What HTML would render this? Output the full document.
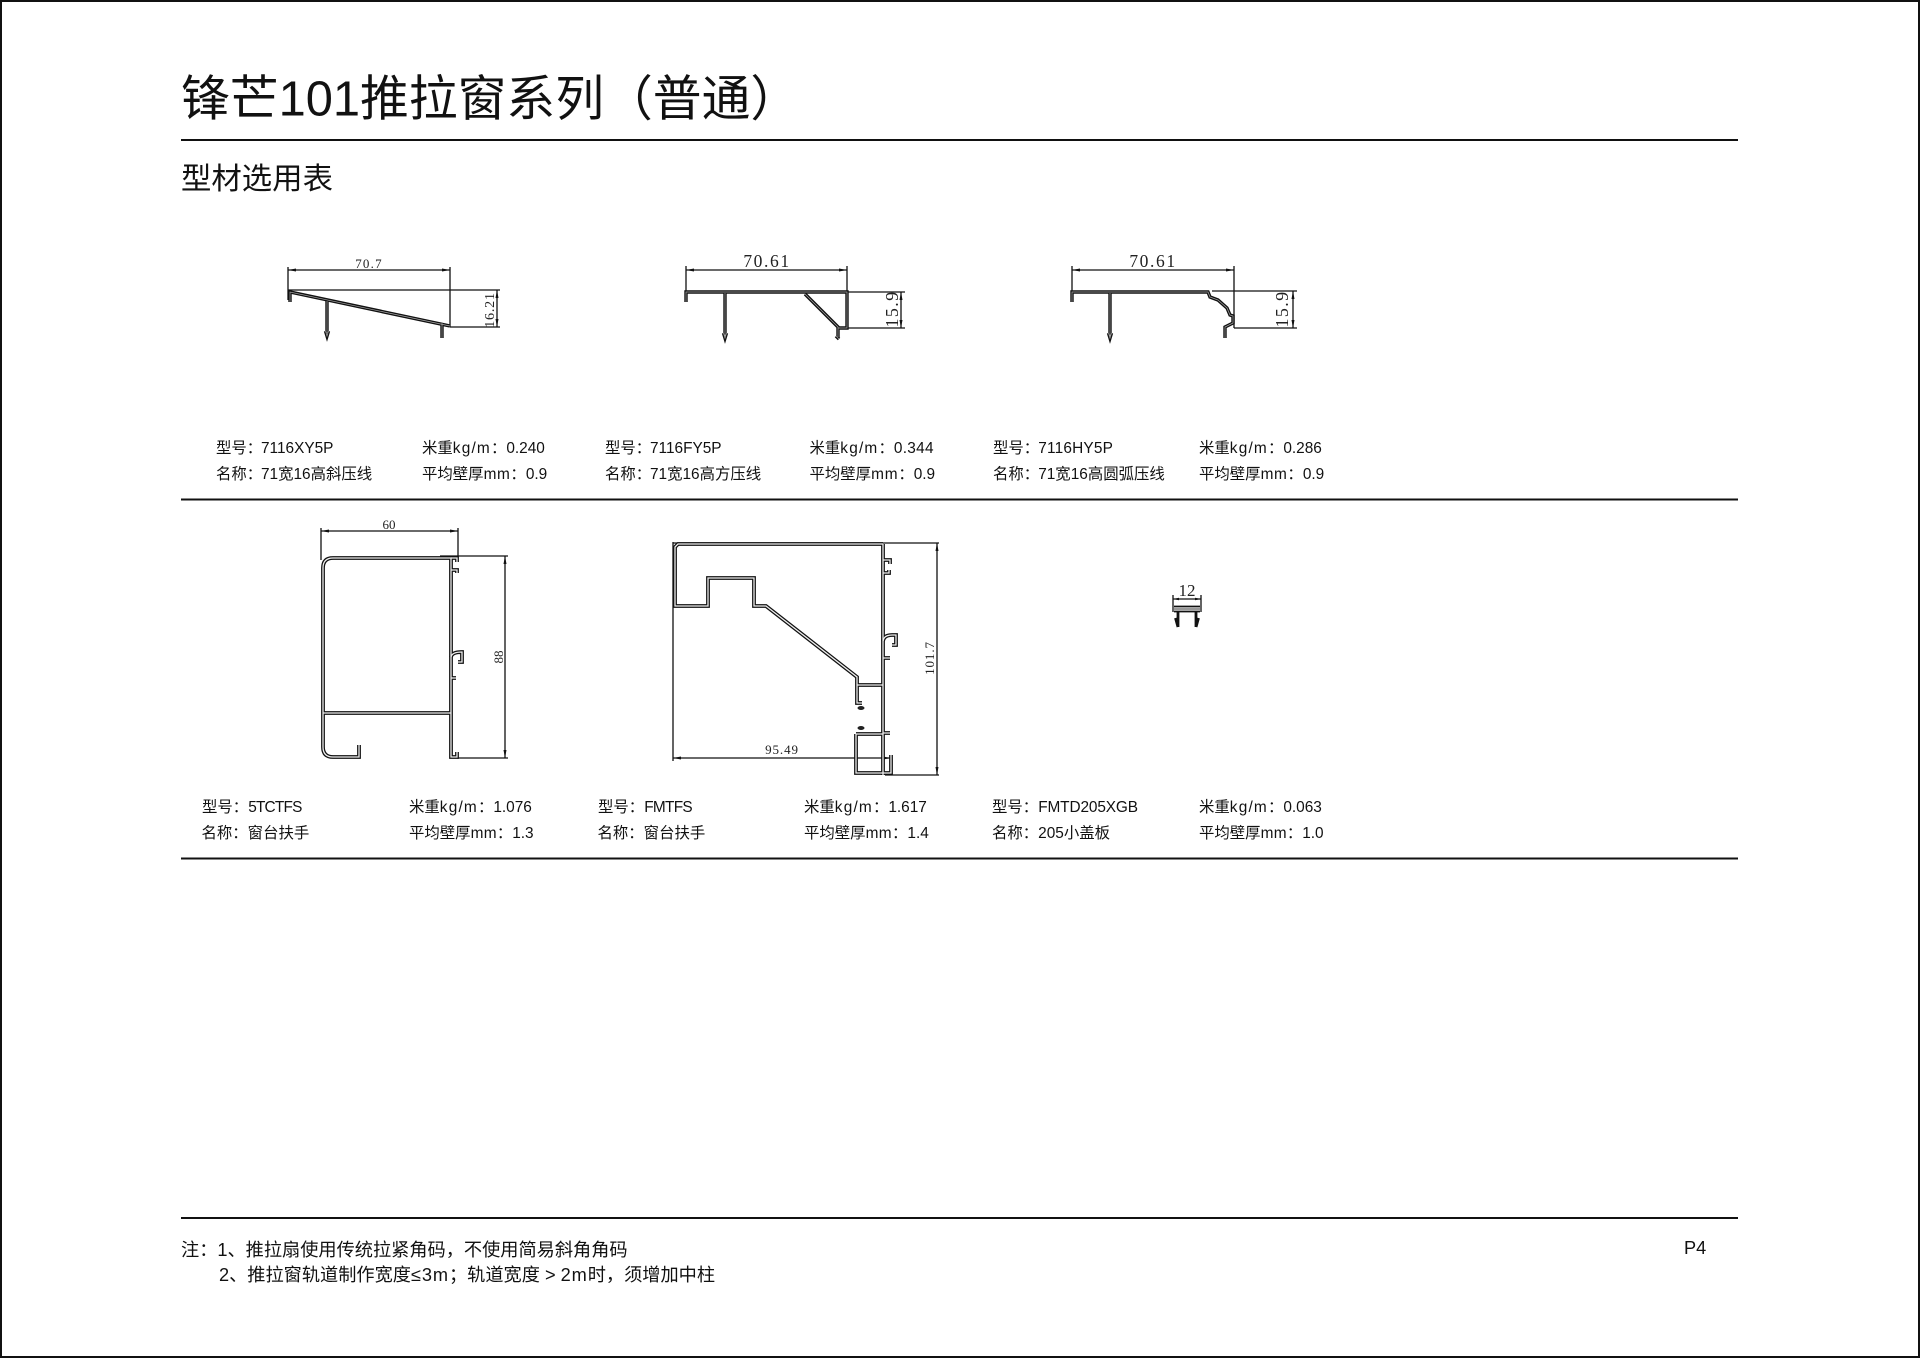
<!DOCTYPE html>
<html><head><meta charset="utf-8"><style>
html,body{margin:0;padding:0;background:#fff}
svg{display:block}
text{font-family:"Liberation Sans","Noto Sans CJK SC",sans-serif;fill:#111;white-space:pre}
.t{font-size:15.4px}
.n{font-size:18.2px}
.d{font-family:"Liberation Serif","Noto Serif CJK SC",serif;fill:#222;text-anchor:middle}
.r{stroke:#111;stroke-width:2;fill:none}
.l{stroke:#111;stroke-width:1.3;fill:none}
.a{fill:#111;stroke:none}
</style></head><body>
<svg width="1920" height="1358" viewBox="0 0 1920 1358" xmlns="http://www.w3.org/2000/svg">
<defs>
<g id="p1" fill="none"><path d="M290 302V292L450 326"/><path d="M327 301V333M325.5 331L327 336L328.5 331"/><path d="M442 323V338"/></g>
<g id="p2" fill="none"><path d="M686 302V292H847V328H838"/><path d="M725 293V336M723.5 333L725 338L726.5 333"/><path d="M805 294L838 327V337M836 336L839 339"/></g>
<g id="p3" fill="none"><path d="M1072 302V292H1208L1210 297L1218 300L1227 308L1230 315L1233 316V323L1225 327V338"/><path d="M1110 293V336M1108.500 333L1110 338L1111.500 333"/></g>
<g id="p4" fill="none"><path d="M359 745V757H333Q323 757 323 747V568Q323 558 333 558H451V757H457V752"/><path d="M323 713H451"/><path d="M451 558H457V562M451 570H457V573M451 657Q452 652 462 652V662H458M451 678H456"/></g>
<g id="p5" fill="none"><path d="M883 544H678L675 547V606H708V578H754V606H766L857 677V703H862"/><path d="M883 544V775"/><path d="M857 685H883"/><path d="M856 734H883M856 734V773H891V755"/><path d="M883 560H890V564M883 573H889V570M883 641Q884 635 892 635H896V645H892M883 658H890M883 733H890"/></g>
<g id="p6" fill="none"><path d="M1178 612V627M1196 612V627M1175.500 618L1178 627M1198.500 618L1196 627"/></g>
</defs>

<rect x="1" y="1" width="1918" height="1356" fill="#fff" stroke="#111" stroke-width="2"/>

<text x="181" y="115.5" style="font-size:48.8px">锋芒101推拉窗系列（普通）</text>
<path class="r" d="M181 140H1738M181 499.5H1738M181 858.5H1738M181 1218H1738"/>
<text x="181" y="189" style="font-size:30.4px">型材选用表</text>

<!-- drawing 1 -->
<path class="l" d="M288 267V300M288 270H450M450 267V327M288 290H500M450 327H500M497 290V327"/>
<path class="a" d="M288 270l8-1.5v3zM450 270l-8-1.500v3zM497 290l-1.500 8h3zM497 327l-1.500-8h3z"/>
<use href="#p1" stroke="#111" stroke-width="3.4"/>
<use href="#p1" stroke="#aaa" stroke-width=".7"/>
<text class="d" x="369" y="268" style="font-size:13px;letter-spacing:1.2px">70.7</text>
<text class="d" transform="translate(494,310) rotate(-90)" style="font-size:14px;letter-spacing:.8px">16.21</text>

<!-- drawing 2 -->
<path class="l" d="M686 266V292M686 270H847M847 266V328M686 292H905M847 328H905M901 292V328"/>
<path class="a" d="M686 270l8-1.500v3zM847 270l-8-1.500v3zM901 292l-1.500 8h3zM901 328l-1.500-8h3z"/>
<use href="#p2" stroke="#111" stroke-width="3.4"/>
<use href="#p2" stroke="#aaa" stroke-width=".7"/>
<text class="d" x="767" y="267" style="font-size:17.5px;letter-spacing:1.6px">70.61</text>
<text class="d" transform="translate(898,309) rotate(-90)" style="font-size:18px;letter-spacing:1.4px">15.9</text>

<!-- drawing 3 -->
<path class="l" d="M1072 266V292M1072 270H1234M1234 266V328M1212 291H1297M1234 328H1297M1293 291V328"/>
<path class="a" d="M1072 270l8-1.500v3zM1234 270l-8-1.500v3zM1293 291l-1.500 8h3zM1293 328l-1.500-8h3z"/>
<use href="#p3" stroke="#111" stroke-width="3.4"/>
<use href="#p3" stroke="#aaa" stroke-width=".7"/>
<text class="d" x="1153" y="267" style="font-size:17.5px;letter-spacing:1.6px">70.61</text>
<text class="d" transform="translate(1288,309) rotate(-90)" style="font-size:18px;letter-spacing:1.4px">15.9</text>

<!-- drawing 4 -->
<path class="l" d="M321 528V560M321 531H458M458 528V556M440 556H508M457 758H508M505 556V758"/>
<path class="a" d="M321 531l8-1.500v3zM458 531l-8-1.500v3zM505 556l-1.500 8h3zM505 758l-1.500-8h3z"/>
<use href="#p4" stroke="#111" stroke-width="3.8"/>
<use href="#p4" stroke="#eee" stroke-width="1.3"/>
<text class="d" x="389" y="529" style="font-size:13px">60</text>
<text class="d" transform="translate(503,657) rotate(-90)" style="font-size:13px">88</text>

<!-- drawing 5 -->
<path class="l" d="M673 542V761M673 758H891M891 755V775M673 543H939M885 775H939M937 543V775"/>
<path class="a" d="M673 758l8-1.500v3zM891 758l-8-1.500v3zM937 543l-1.500 8h3zM937 775l-1.500-8h3z"/>
<use href="#p5" stroke="#111" stroke-width="3.8"/>
<use href="#p5" stroke="#eee" stroke-width="1.3"/>
<ellipse cx="861" cy="708" rx="3.5" ry="2" fill="#222"/>
<ellipse cx="861" cy="728" rx="3.5" ry="2" fill="#222"/>
<text class="d" x="782" y="754" style="font-size:13px;letter-spacing:.9px">95.49</text>
<text class="d" transform="translate(934,658) rotate(-90)" style="font-size:13px;letter-spacing:.9px">101.7</text>

<!-- drawing 6 -->
<path class="l" d="M1173 595V612M1201 595V612M1173 599H1201"/>
<path class="a" d="M1173 599l6-1.300v2.600zM1201 599l-6-1.300v2.600z"/>
<path d="M1174 606.500H1200M1174 611.500H1200" stroke="#111" stroke-width="1.800" fill="none"/>
<path d="M1174 609H1200" stroke="#777" stroke-width="1.500" fill="none"/>
<use href="#p6" stroke="#111" stroke-width="2.800"/>
<text class="d" x="1187" y="596" style="font-size:17px">12</text>

<!-- row 1 -->
<text class="t" x="216" y="453">型号：<tspan dx="-1.2">7116XY5P</tspan></text><text class="t" x="422" y="453">米重<tspan letter-spacing="1.2">kg/m</tspan>：0.240</text>
<text class="t" x="216" y="479">名称：<tspan dx="-1.2">71宽16高斜压线</tspan></text><text class="t" x="422" y="479">平均壁厚<tspan letter-spacing=".6">mm</tspan>：0.9</text>
<text class="t" x="605" y="453">型号：<tspan dx="-1.2">7116FY5P</tspan></text><text class="t" x="809.5" y="453">米重<tspan letter-spacing="1.2">kg/m</tspan>：<tspan letter-spacing=".3">0.344</tspan></text>
<text class="t" x="605" y="479">名称：<tspan dx="-1.2">71宽16高方压线</tspan></text><text class="t" x="809.5" y="479">平均壁厚<tspan letter-spacing=".8">mm</tspan>：0.9</text>
<text class="t" x="993" y="453">型号：<tspan dx="-1" letter-spacing=".2">7116HY5P</tspan></text><text class="t" x="1199" y="453">米重<tspan letter-spacing="1.2">kg/m</tspan>：0.286</text>
<text class="t" x="993" y="479">名称：<tspan dx="-1">71宽16高圆弧压线</tspan></text><text class="t" x="1199" y="479">平均壁厚<tspan letter-spacing=".6">mm</tspan>：0.9</text>

<!-- row 2 -->
<text class="t" x="202" y="812">型号：<tspan letter-spacing="-.8">5TCTFS</tspan></text><text class="t" x="409" y="812">米重<tspan letter-spacing="1.2">kg/m</tspan>：1.076</text>
<text class="t" x="201.5" y="838">名称：窗台扶手</text><text class="t" x="409" y="838">平均壁厚<tspan letter-spacing=".3">mm</tspan>：1.3</text>
<text class="t" x="598" y="812">型号：<tspan letter-spacing="-.7">FMTFS</tspan></text><text class="t" x="804" y="812">米重<tspan letter-spacing="1.2">kg/m</tspan>：1.617</text>
<text class="t" x="597.5" y="838">名称：窗台扶手</text><text class="t" x="804" y="838">平均壁厚<tspan letter-spacing=".4">mm</tspan>：1.4</text>
<text class="t" x="992" y="812">型号：<tspan letter-spacing="-.12">FMTD205XGB</tspan></text><text class="t" x="1199" y="812">米重<tspan letter-spacing="1.2">kg/m</tspan>：0.063</text>
<text class="t" x="992" y="838">名称：205小盖板</text><text class="t" x="1199" y="838">平均壁厚<tspan letter-spacing=".3">mm</tspan>：1.0</text>

<!-- notes -->
<text class="n" x="181" y="1256">注：1、推拉扇使用传统拉紧角码，不使用简易斜角角码</text>
<text class="n" x="219" y="1281">2、推拉窗轨道制作宽度<tspan letter-spacing=".9">≤3m</tspan>；轨道宽度 &gt; <tspan letter-spacing=".9">2m</tspan>时，须增加中柱</text>
<text class="n" x="1684" y="1254">P4</text>
</svg>
</body></html>
